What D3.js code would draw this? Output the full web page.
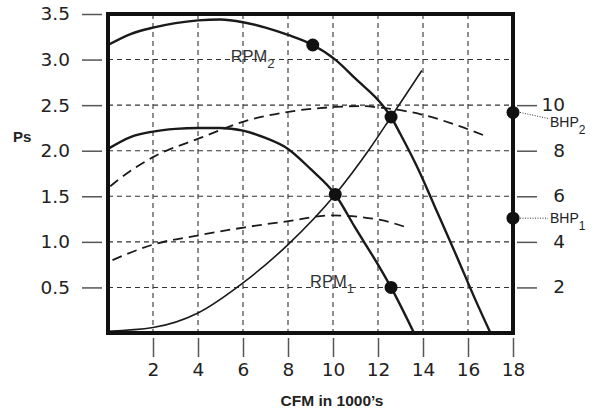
<!DOCTYPE html>
<html>
<head>
<meta charset="utf-8">
<script src="https://cdn.jsdelivr.net/npm/d3@7"></script>
<style>
  body { margin: 0; background: #fff; }
</style>
</head>
<body>
<script>
// Fan curves (CFM in 1000's, static pressure Ps)
const rpm2Cfm = [0, 1, 2, 3, 4, 5, 6, 7, 8, 9.1, 10.1, 11, 12.2, 12.58, 13, 13.8, 14.5, 15.5, 16.3, 17];
const rpm2Ps  = [3.16, 3.28, 3.35, 3.40, 3.43, 3.44, 3.41, 3.35, 3.27, 3.16, 3.0, 2.79, 2.5, 2.37, 2.18, 1.79, 1.4, 0.84, 0.38, 0];

const rpm1Cfm = [0, 1, 2, 3, 4, 5, 6, 7, 8, 9, 10.1, 11, 12, 12.58, 13.6];
const rpm1Ps  = [2.02, 2.15, 2.21, 2.24, 2.25, 2.25, 2.22, 2.14, 2.02, 1.8, 1.52, 1.15, 0.75, 0.5, 0];

// System curve
const sysCfm = [0, 2, 4, 6, 8, 10.1, 11.6, 12.58, 13.95];
const sysPs  = [0.02, 0.06, 0.22, 0.55, 0.97, 1.52, 2.01, 2.37, 2.88];

// Brake horsepower curves (right axis)
const bhp2Cfm = [0.1, 0.45, 2, 4.1, 6.1, 8.1, 10.1, 11.2, 12.2, 13.9, 15.5, 16.9];
const bhp2Val = [6.44, 6.72, 7.72, 8.56, 9.3, 9.72, 9.92, 9.96, 9.88, 9.6, 9.12, 8.6];

const bhp1Cfm = [0.2, 2, 4.1, 6.1, 8.1, 9.9, 12.1, 13.2];
const bhp1Val = [3.2, 3.88, 4.3, 4.64, 4.92, 5.16, 4.96, 4.66];

// Operating points
const opCfm = [9.1, 12.58, 10.1, 12.58];
const opPs  = [3.16, 2.37, 1.52, 0.5];

// BHP read-out points on the right axis
const bhpDotCfm = [18, 18];
const bhpDotVal = [9.68, 5.04];
const bhpDotSub = ['2', '1'];

// Ticks
const cfmTicks = [2, 4, 6, 8, 10, 12, 14, 16, 18];
const psTicks = [0.5, 1.0, 1.5, 2.0, 2.5, 3.0, 3.5];
const bhpTicks = [2, 4, 6, 8, 10];
const gridCfm = [2, 4, 6, 8, 10, 12, 14, 16];
const gridPs = [0.5, 1.0, 1.5, 2.0, 2.5, 3.0];

const width = 598, height = 410;

const svg = d3.select('body')
  .append('svg')
  .attr('width', width)
  .attr('height', height)
  .style('font-family', '"Liberation Sans", Arial, Helvetica, sans-serif');

const x = d3.scaleLinear().domain([0, 18]).range([108, 513]);
const y = d3.scaleLinear().domain([0, 3.5]).range([333, 14]);
const yBhp = d3.scaleLinear().domain([0, 14]).range([333, 14]);

// Dashed grid
const grid = svg.append('g')
  .attr('stroke', '#333')
  .attr('stroke-width', 1.1)
  .attr('stroke-dasharray', '5,4');

grid.selectAll('.gx')
  .data(gridCfm)
  .enter().append('line')
  .attr('x1', d => x(d)).attr('x2', d => x(d))
  .attr('y1', y(3.5)).attr('y2', y(0));

grid.selectAll('.gy')
  .data(gridPs)
  .enter().append('line')
  .attr('x1', x(0)).attr('x2', x(18))
  .attr('y1', d => y(d)).attr('y2', d => y(d));

// Axes
function styleAxis(g) {
  g.select('.domain').remove();
  g.selectAll('.tick line').attr('stroke', '#555').attr('stroke-width', 1.5);
  g.selectAll('.tick text')
    .attr('fill', '#222')
    .style('font-family', '"DejaVu Sans", sans-serif')
    .style('font-size', '18.5px');
}

svg.append('g')
  .attr('transform', 'translate(102,0)')
  .call(d3.axisLeft(y).tickValues(psTicks).tickSize(20).tickPadding(12).tickFormat(d3.format('.1f')))
  .call(styleAxis);

svg.append('g')
  .attr('transform', 'translate(517,0)')
  .call(d3.axisRight(yBhp).tickValues(bhpTicks).tickSize(20).tickFormat(d3.format('d')))
  .call(styleAxis)
  .selectAll('.tick text')
  .attr('x', 48)
  .attr('dy', '0.3em')
  .attr('text-anchor', 'end');

svg.append('g')
  .attr('transform', 'translate(0,338)')
  .call(d3.axisBottom(x).tickValues(cfmTicks).tickSize(19).tickPadding(6).tickFormat(d3.format('d')))
  .call(styleAxis);

// Curves
const psLine = d3.line()
  .x(d => x(d[0]))
  .y(d => y(d[1]))
  .curve(d3.curveMonotoneX);

const bhpLine = d3.line()
  .x(d => x(d[0]))
  .y(d => yBhp(d[1]))
  .curve(d3.curveMonotoneX);

svg.append('path')
  .datum(d3.zip(bhp2Cfm, bhp2Val))
  .attr('d', bhpLine)
  .attr('fill', 'none')
  .attr('stroke', '#1a1a1a')
  .attr('stroke-width', 1.8)
  .attr('stroke-dasharray', '10,6');

svg.append('path')
  .datum(d3.zip(bhp1Cfm, bhp1Val))
  .attr('d', bhpLine)
  .attr('fill', 'none')
  .attr('stroke', '#1a1a1a')
  .attr('stroke-width', 1.8)
  .attr('stroke-dasharray', '10,6');

svg.append('path')
  .datum(d3.zip(sysCfm, sysPs))
  .attr('d', psLine)
  .attr('fill', 'none')
  .attr('stroke', '#1a1a1a')
  .attr('stroke-width', 1.6);

svg.append('path')
  .datum(d3.zip(rpm2Cfm, rpm2Ps))
  .attr('d', psLine)
  .attr('fill', 'none')
  .attr('stroke', '#1a1a1a')
  .attr('stroke-width', 2.4);

svg.append('path')
  .datum(d3.zip(rpm1Cfm, rpm1Ps))
  .attr('d', psLine)
  .attr('fill', 'none')
  .attr('stroke', '#1a1a1a')
  .attr('stroke-width', 2.4);

// Frame
svg.append('rect')
  .attr('x', x(0))
  .attr('y', y(3.5))
  .attr('width', x(18) - x(0))
  .attr('height', y(0) - y(3.5))
  .attr('fill', 'none')
  .attr('stroke', '#111')
  .attr('stroke-width', 4);

// Operating points
svg.selectAll('.op')
  .data(d3.zip(opCfm, opPs))
  .enter().append('circle')
  .attr('cx', d => x(d[0]))
  .attr('cy', d => y(d[1]))
  .attr('r', 6.5)
  .attr('fill', '#111');

// BHP dots, leaders and labels
const bhpG = svg.selectAll('.bhp')
  .data(d3.zip(bhpDotCfm, bhpDotVal, bhpDotSub))
  .enter().append('g');

bhpG.append('line')
  .attr('x1', d => x(d[0]) + 7)
  .attr('y1', d => yBhp(d[1]))
  .attr('x2', 548)
  .attr('y2', d => yBhp(d[1]) + (d[2] === '2' ? 6 : 0))
  .attr('stroke', '#333')
  .attr('stroke-width', 1)
  .attr('stroke-dasharray', '1,1.5');

bhpG.append('circle')
  .attr('cx', d => x(d[0]))
  .attr('cy', d => yBhp(d[1]))
  .attr('r', 6.5)
  .attr('fill', '#111');

const bhpText = bhpG.append('text')
  .attr('x', 550)
  .attr('y', d => yBhp(d[1]) + (d[2] === '2' ? 14.5 : 5))
  .attr('fill', '#222')
  .style('font-size', '14px');
bhpText.append('tspan').text('BHP');
bhpText.append('tspan').attr('dy', 7).style('font-size', '12px').text(d => d[2]);

// RPM labels
function rpmLabel(cfm, ps, sub) {
  const t = svg.append('text')
    .attr('x', x(cfm))
    .attr('y', y(ps))
    .attr('fill', '#333')
    .style('font-size', '16.5px');
  t.append('tspan').text('RPM');
  t.append('tspan').attr('dy', 6).style('font-size', '13px').text(sub);
}
rpmLabel(5.45, 2.97, '2');
rpmLabel(8.98, 0.5, '1');

// Axis titles
svg.append('text')
  .attr('x', 332)
  .attr('y', 406)
  .attr('text-anchor', 'middle')
  .attr('fill', '#222')
  .style('font-size', '15.5px')
  .style('font-weight', 'bold')
  .text("CFM in 1000\u2019s");

svg.append('text')
  .attr('x', 13)
  .attr('y', 142)
  .attr('fill', '#222')
  .style('font-size', '15px')
  .style('font-weight', 'bold')
  .text('Ps');
</script>
</body>
</html>
